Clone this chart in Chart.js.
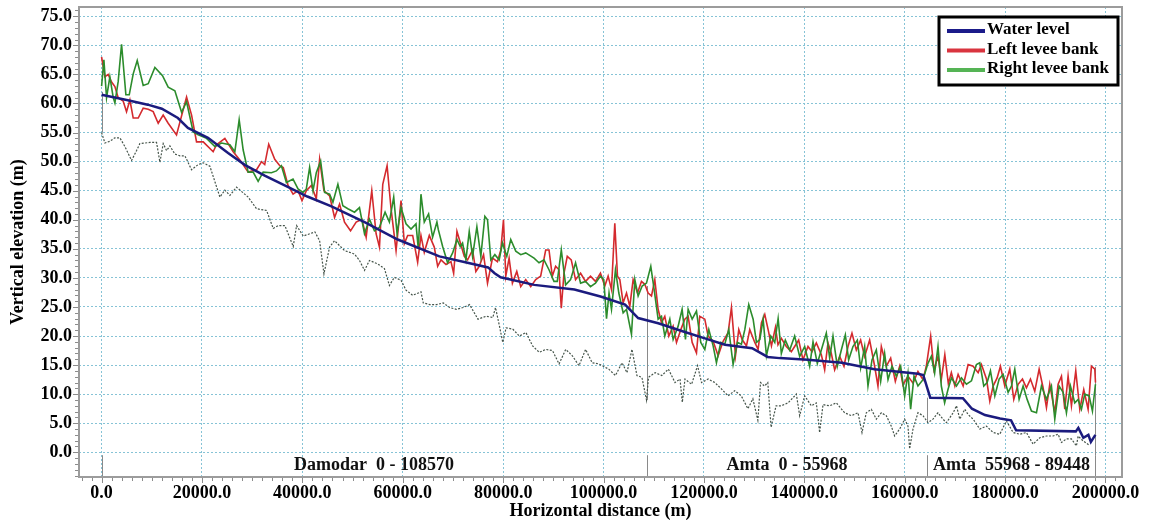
<!DOCTYPE html>
<html>
<head>
<meta charset="utf-8">
<script src="https://cdn.jsdelivr.net/npm/chart.js@4.4.0/dist/chart.umd.min.js"></script>
<style>
  html, body { margin: 0; padding: 0; background: #fff; }
  #wrap { width: 1151px; height: 522px; }
</style>
</head>
<body>
<div id="wrap"><canvas id="profile" width="1151" height="522"></canvas></div>
<script>
// [distance (m), elevation (m)]
const waterLevel = [[0,61.5],[5000,60.6],[9200,59.8],[12000,59.1],[15200,57.5],[17200,55.8],[20000,54.6],[21200,54.1],[25200,51.5],[28600,49.4],[32500,47.6],[37500,45.5],[41000,44.0],[45800,42.3],[52400,39.6],[59000,36.6],[67300,33.7],[72900,32.6],[77000,31.8],[78300,30.8],[79500,30.1],[86200,28.8],[94200,28.0],[99400,26.8],[104300,25.4],[106900,23.1],[110900,22.2],[116200,20.7],[120200,19.6],[124200,18.5],[129600,17.9],[132700,16.4],[135100,16.2],[140700,15.9],[147500,15.4],[154000,14.3],[162600,13.5],[163700,13.3],[165100,9.4],[171600,9.3],[173400,7.5],[176000,6.4],[179000,5.8],[181200,5.5],[182200,3.8],[194100,3.6],[194600,4.2],[195600,2.5],[196600,3.0],[197100,1.8],[198000,3.0]];

const leftBank = [[0,68.0],[660,64.6],[1320,65.0],[1990,63.7],[2650,62.9],[3310,61.0],[4310,60.4],[4970,58.6],[5640,60.6],[6300,57.5],[7300,57.5],[8290,59.2],[9290,59.0],[10280,58.6],[11280,56.6],[12270,58.0],[13270,56.6],[14930,54.6],[16930,61.1],[17930,58.0],[18920,53.4],[20250,53.4],[22230,51.7],[22900,52.9],[24560,54.0],[26220,51.7],[27550,50.3],[29200,48.2],[30870,48.6],[31870,50.0],[32500,49.5],[33300,53.0],[34500,50.4],[35500,49.3],[36200,49.0],[37150,45.9],[38150,44.4],[39140,45.0],[39930,43.3],[40790,45.0],[41790,45.9],[42780,43.6],[43440,50.4],[44300,45.0],[45430,44.1],[46420,40.4],[47410,42.7],[48400,39.6],[49600,38.1],[50720,39.6],[51850,40.1],[52710,37.0],[53830,45.0],[54690,37.6],[55360,35.3],[56020,46.1],[56880,49.3],[57670,41.9],[58670,34.7],[59660,43.3],[60320,35.9],[60980,37.3],[61980,37.3],[62970,32.7],[63630,37.3],[64290,34.4],[65290,37.3],[66280,35.3],[66960,32.0],[67620,33.1],[68620,32.3],[69610,32.8],[70140,30.8],[70800,38.0],[71590,35.7],[72260,33.7],[72920,33.1],[73910,34.8],[74570,31.1],[75240,32.0],[76100,34.0],[76890,29.1],[77880,33.4],[78870,32.8],[79540,34.8],[80070,40.0],[80530,30.3],[81190,33.4],[81850,29.1],[82720,31.1],[83510,28.5],[84500,29.7],[85500,28.5],[86490,29.7],[87480,30.3],[88480,34.8],[89140,34.8],[89800,30.3],[90460,32.0],[91130,31.4],[91590,24.8],[92120,30.8],[92780,33.7],[93570,33.1],[94430,29.7],[95430,30.8],[96420,29.4],[97410,30.3],[98400,29.4],[99390,30.8],[100260,28.6],[100920,30.3],[101590,28.0],[102250,39.4],[102780,30.3],[103250,29.7],[103910,25.7],[104580,27.4],[105240,25.1],[105900,29.7],[106770,27.4],[107560,29.4],[108230,28.9],[108890,27.4],[109560,26.9],[110220,29.7],[110880,24.6],[111550,22.3],[112210,23.4],[113010,20.0],[113870,21.7],[114540,18.9],[115400,21.1],[116200,22.9],[116860,23.4],[117660,18.9],[118520,17.1],[119180,23.4],[120180,22.9],[120840,20.0],[121840,19.1],[122840,16.6],[123830,19.1],[124830,20.6],[125490,24.9],[126290,16.6],[126950,21.1],[127620,19.4],[128480,18.3],[129140,21.1],[130140,18.9],[130800,17.7],[131470,22.3],[132130,23.7],[132800,21.1],[133460,18.3],[134260,21.5],[134760,18.5],[135430,19.6],[136420,18.2],[137420,17.3],[138080,18.2],[138880,19.3],[139740,15.9],[140740,18.2],[141540,17.3],[142400,18.8],[143400,16.8],[144060,14.2],[144720,18.8],[145390,17.0],[146050,14.2],[147050,16.5],[147910,14.8],[148710,18.2],[149500,20.5],[150370,17.6],[151230,19.3],[152030,16.5],[153020,19.3],[154020,14.8],[154680,11.4],[155350,18.2],[156340,14.8],[157210,16.2],[158140,12.2],[159000,14.8],[159660,11.6],[160660,13.1],[161660,11.9],[162650,13.9],[163650,12.5],[164310,14.8],[165180,20.0],[165840,14.2],[166640,16.5],[167300,12.5],[168000,16.8],[168700,11.8],[169300,13.7],[170000,11.4],[170650,13.4],[171650,11.4],[172640,15.1],[173640,14.8],[174640,13.7],[175300,15.1],[176300,12.6],[176960,8.8],[177620,11.4],[178420,12.8],[179080,14.8],[179950,11.4],[180940,14.3],[181740,9.1],[182600,11.7],[183470,12.6],[184260,11.1],[185060,12.6],[185920,10.5],[186790,14.3],[187580,11.1],[188250,7.7],[188910,11.7],[189910,6.8],[190570,11.7],[191240,13.1],[191900,7.4],[192560,13.1],[193230,8.0],[194090,14.0],[194890,7.4],[195680,10.8],[196550,7.4],[197210,14.8],[197880,14.3],[198018,12.0]];

const rightBank = [[0,63.0],[460,67.5],[990,61.0],[1650,64.6],[2320,61.0],[2650,60.1],[3310,63.8],[3980,70.2],[4840,61.5],[5510,61.5],[6300,65.1],[7100,67.4],[8290,63.1],[9290,63.4],[10620,66.2],[12140,64.8],[13270,62.8],[14600,62.2],[15940,58.5],[16930,60.3],[18250,55.1],[19250,54.6],[20910,54.0],[22570,52.6],[23900,53.2],[25560,52.9],[26550,51.7],[27410,57.2],[28210,52.0],[29200,48.2],[30200,48.2],[31190,46.6],[32190,48.2],[33840,48.1],[34830,48.4],[35830,49.3],[36820,46.4],[38140,47.0],[39140,45.3],[40130,44.7],[40790,45.3],[41450,49.0],[42120,45.0],[42780,48.1],[43640,50.1],[44430,44.7],[45430,44.4],[46090,43.0],[47080,46.1],[48070,42.4],[49070,41.9],[50390,41.3],[51380,42.1],[52380,37.6],[53370,40.1],[54360,38.1],[55360,38.7],[56480,41.3],[57340,39.6],[58200,43.9],[58870,37.6],[59660,42.1],[60650,39.3],[61650,38.4],[62640,39.3],[63100,35.0],[63630,44.4],[64290,39.6],[65150,41.0],[65950,37.0],[66810,39.6],[67090,38.3],[67950,35.4],[68940,32.6],[69940,34.3],[70800,36.6],[71460,35.4],[71920,36.0],[72590,33.1],[73250,38.0],[73910,33.7],[74770,38.8],[75560,33.7],[76360,40.6],[76890,40.0],[77550,33.1],[78350,34.0],[79210,33.1],[79870,36.0],[80730,33.7],[81520,36.6],[82520,34.6],[83510,34.0],[84500,34.3],[86160,33.4],[87150,32.6],[88140,33.1],[89140,31.4],[90130,29.4],[90790,29.4],[91590,34.8],[92450,28.8],[93440,29.7],[94430,32.6],[95430,29.1],[96420,29.4],[97410,28.5],[98400,29.1],[99390,30.3],[100050,29.7],[100600,23.0],[101100,27.4],[101590,24.6],[102380,31.4],[103050,27.4],[103910,24.0],[104580,24.6],[105570,20.3],[106240,29.7],[106900,26.9],[107700,28.6],[108560,29.1],[109420,32.0],[110090,28.0],[110880,22.9],[111550,23.4],[112210,20.0],[113210,22.9],[113870,19.4],[114870,21.7],[115660,24.6],[116330,19.4],[116860,24.6],[117660,22.9],[118520,24.3],[119380,18.9],[120180,17.7],[120980,21.1],[121840,18.3],[122500,15.4],[123370,18.9],[124160,18.6],[124960,21.1],[125820,15.1],[126690,18.9],[127480,18.6],[128150,21.1],[128940,25.4],[129810,22.9],[130470,18.9],[131140,19.4],[131800,22.9],[132460,16.6],[133330,20.0],[134120,18.9],[134790,23.0],[135430,17.0],[136220,19.3],[137090,17.6],[138080,20.0],[139080,16.5],[140080,18.2],[141070,14.8],[141740,19.0],[142600,15.3],[143400,17.6],[144390,20.5],[145060,16.2],[145720,20.0],[146580,14.8],[147380,17.6],[148180,20.2],[148840,15.9],[149700,18.2],[150570,19.3],[151230,14.5],[152030,18.2],[152690,11.4],[153490,15.9],[154350,17.6],[155220,12.2],[156010,17.0],[156680,12.5],[157470,14.8],[158340,13.1],[159200,14.8],[160000,9.7],[160660,13.6],[161190,7.4],[161860,13.1],[162650,11.4],[163650,12.5],[164640,15.3],[165310,16.5],[165970,13.6],[166640,18.2],[167300,11.4],[167960,8.5],[168630,10.8],[169320,12.8],[170320,11.4],[171320,12.8],[172310,11.7],[173310,12.3],[174300,15.1],[174970,15.4],[175760,11.4],[176430,12.0],[177090,14.0],[177960,9.7],[178820,12.6],[179620,13.4],[180610,10.3],[181280,11.4],[181940,14.3],[182800,9.1],[183600,11.4],[184400,9.1],[185260,7.1],[186260,6.8],[187250,11.4],[188250,9.1],[189240,11.4],[189910,5.7],[190770,11.4],[191570,10.3],[192230,6.8],[193030,11.4],[193890,8.5],[194560,9.1],[195220,7.4],[195880,10.0],[196750,9.7],[197410,7.1],[198010,11.7]];

const bedLevel = [[0,55.0],[660,53.2],[1650,53.5],[2650,54.1],[3640,54.1],[4640,52.6],[5970,50.2],[6970,51.9],[7630,53.1],[9630,53.3],[10950,53.3],[11620,49.9],[12280,53.1],[12950,51.9],[13610,52.7],[14610,51.3],[15600,51.0],[16600,51.0],[17930,48.6],[19250,49.5],[20250,49.8],[21580,49.2],[23570,43.9],[24560,45.1],[25560,44.2],[26890,45.6],[29200,43.9],[30870,41.9],[32870,41.6],[34200,38.5],[35200,39.0],[36520,39.0],[38180,35.4],[38850,39.0],[40180,37.2],[42500,37.9],[43440,36.4],[44300,30.7],[45430,35.3],[46420,36.4],[48400,34.7],[50390,34.1],[51380,33.0],[52380,31.3],[53370,33.0],[55030,32.4],[56350,31.6],[57340,28.7],[58330,30.1],[59660,29.6],[60650,27.9],[61980,27.0],[63630,27.6],[64090,25.7],[65410,25.4],[66730,25.4],[68050,25.7],[69370,24.9],[70690,24.6],[72010,24.9],[73330,25.4],[74980,22.9],[76630,23.4],[77950,23.2],[78480,24.9],[79270,21.7],[79930,18.9],[80590,21.4],[81910,21.2],[83230,20.0],[84550,20.6],[85870,18.3],[87190,17.2],[88510,17.7],[89830,17.5],[91150,15.2],[92470,17.7],[93790,16.6],[95110,14.9],[96430,17.7],[97750,15.4],[99070,15.2],[101050,14.3],[102370,13.2],[103690,15.4],[104680,13.7],[105670,17.7],[106660,13.2],[107650,12.9],[108570,9.0],[108970,12.9],[110290,13.7],[111610,13.2],[112930,14.3],[114250,12.0],[115240,12.6],[115700,8.6],[116230,12.6],[117550,11.7],[118740,14.9],[119530,12.0],[120850,12.6],[122170,12.0],[123490,10.9],[124810,9.7],[126130,10.6],[127450,9.7],[128770,7.5],[129760,9.2],[130750,5.5],[131280,12.0],[132070,11.4],[132730,12.0],[133390,4.3],[134380,8.0],[135430,8.0],[136760,8.5],[138420,10.0],[139080,6.3],[140080,9.7],[141400,8.0],[142400,8.5],[143060,3.4],[143730,8.2],[145060,8.0],[146380,8.5],[148040,6.8],[149370,6.3],[150700,6.8],[151500,3.4],[152360,6.8],[153360,7.4],[154350,5.7],[155350,6.8],[156340,6.3],[157340,4.5],[158000,2.8],[159000,4.0],[160000,5.7],[160660,4.5],[160990,0.6],[161660,4.0],[162650,6.8],[163650,6.3],[164640,5.1],[165640,5.7],[166640,6.8],[167630,5.7],[168330,5.1],[169660,6.8],[170320,8.0],[170980,5.7],[171980,7.4],[172640,6.5],[173640,5.7],[174970,4.0],[176300,4.5],[177620,3.4],[178950,3.1],[180280,5.4],[181610,3.4],[182940,3.1],[184260,3.4],[185590,1.4],[186920,2.5],[188250,2.8],[189580,2.8],[190570,3.1],[191240,1.7],[192230,2.3],[193230,2.3],[194220,1.1],[194560,2.8],[195500,2.0],[196800,1.2]];

// reach boundaries (chainage) and the gray marker lines drawn there
const sectionX = [0, 108570, 164538, 198018];
const sectionTop = [62.0, 28.6, 9.4, 14.7];
const sectionBase = [55.0, 9.0, 5.1, -0.5];
const sectionLabels = ['Damodar  0 - 108570', 'Amta  0 - 55968', 'Amta  55968 - 89448'];

const seriesNames = ['Water level', 'Left levee bank', 'Right levee bank'];

const xTicks = [0, 20000, 40000, 60000, 80000, 100000, 120000, 140000, 160000, 180000, 200000];
const yTicks = [0, 5, 10, 15, 20, 25, 30, 35, 40, 45, 50, 55, 60, 65, 70, 75];

const FONT = "'Liberation Serif', 'Times New Roman', serif";
const toPts = arr => arr.map(p => ({ x: p[0], y: p[1] }));

const profileDecor = {
  id: 'profileDecor',
  beforeDatasetsDraw(chart) {
    const { ctx, chartArea: a, scales: { x, y } } = chart;
    ctx.save();
    ctx.strokeStyle = '#8a8a8a';
    ctx.lineWidth = 1;
    sectionX.forEach((sx, i) => {
      const px = Math.round(x.getPixelForValue(sx)) + 0.5;
      ctx.beginPath();
      ctx.moveTo(px, y.getPixelForValue(sectionTop[i]));
      ctx.lineTo(px, y.getPixelForValue(sectionBase[i]));
      ctx.moveTo(px, y.getPixelForValue(-0.5));
      ctx.lineTo(px, a.bottom);
      ctx.stroke();
    });
    ctx.restore();
  },
  afterDatasetsDraw(chart) {
    const { ctx, chartArea: a, scales: { x, y } } = chart;
    ctx.save();
    // reach labels
    ctx.font = 'bold 18px ' + FONT;
    ctx.fillStyle = '#111';
    ctx.textAlign = 'center';
    ctx.textBaseline = 'middle';
    sectionLabels.forEach((t, i) => {
      const mid = (sectionX[i] + sectionX[i + 1]) / 2;
      ctx.fillText(t, x.getPixelForValue(mid), y.getPixelForValue(-2.2));
    });

    // frame
    ctx.strokeStyle = '#9c9c9c';
    ctx.lineWidth = 2;
    ctx.strokeRect(a.left, a.top, a.right - a.left, a.bottom - a.top);

    // minor ticks
    ctx.lineWidth = 1;
    ctx.strokeStyle = '#8c8c8c';
    ctx.beginPath();
    for (let v = Math.ceil(y.min); v <= y.max; v += 1) {
      const py = Math.round(y.getPixelForValue(v)) + 0.5;
      const len = v % 5 === 0 ? 5 : 3;
      ctx.moveTo(a.left - 1, py);
      ctx.lineTo(a.left - 1 - len, py);
    }
    for (let v = -4000; v <= x.max; v += 2000) {
      const px = Math.round(x.getPixelForValue(v)) + 0.5;
      const len = v % 20000 === 0 ? 5 : 3;
      ctx.moveTo(px, a.bottom + 1);
      ctx.lineTo(px, a.bottom + 1 + len);
    }
    ctx.stroke();

    // legend box
    const bw = 179, bh = 68;
    const bx = a.right - 4 - bw, by = a.top + 10;
    ctx.fillStyle = '#fff';
    ctx.fillRect(bx, by, bw, bh);
    ctx.strokeStyle = '#000';
    ctx.lineWidth = 3;
    ctx.strokeRect(bx, by, bw, bh);
    ctx.font = 'bold 17px ' + FONT;
    ctx.textAlign = 'left';
    ctx.textBaseline = 'middle';
    seriesNames.forEach((name, i) => {
      const ds = chart.data.datasets[i];
      const ry = by + 13 + i * 19.5;
      ctx.strokeStyle = ds.legendColor;
      ctx.lineWidth = 4;
      ctx.beginPath();
      ctx.moveTo(bx + 8, ry + 1);
      ctx.lineTo(bx + 46, ry + 1);
      ctx.stroke();
      ctx.fillStyle = '#000';
      ctx.fillText(name, bx + 48, ry);
    });
    ctx.restore();
  }
};

new Chart(document.getElementById('profile'), {
  type: 'line',
  data: {
    datasets: [
      {
        label: seriesNames[0],
        data: toPts(waterLevel),
        borderColor: '#1b1b7e',
        legendColor: '#1b1b8a',
        borderWidth: 2.5,
        order: 0
      },
      {
        label: seriesNames[1],
        data: toPts(leftBank),
        borderColor: '#d42a2e',
        legendColor: '#d9343f',
        borderWidth: 1.6,
        order: 2
      },
      {
        label: seriesNames[2],
        data: toPts(rightBank),
        borderColor: '#2c8c2c',
        legendColor: '#55b455',
        borderWidth: 1.6,
        order: 1
      },
      {
        label: 'Bed level',
        data: toPts(bedLevel),
        borderColor: '#45544a',
        borderWidth: 1.2,
        borderDash: [2, 1.5],
        order: 3
      }
    ]
  },
  options: {
    responsive: false,
    devicePixelRatio: 1,
    animation: false,
    layout: { padding: { top: 7, right: 29, left: 0, bottom: 0 } },
    elements: {
      point: { radius: 0 },
      line: { tension: 0, fill: false }
    },
    plugins: {
      legend: { display: false },
      tooltip: { enabled: false }
    },
    scales: {
      x: {
        type: 'linear',
        min: -4500,
        max: 203300,
        afterFit: s => {
          s.height = 45;
          s.paddingLeft = 0;
          s.paddingRight = 0;
        },
        afterBuildTicks: s => { s.ticks = xTicks.map(v => ({ value: v })); },
        ticks: {
          autoSkip: false,
          maxRotation: 0,
          padding: 6,
          color: '#000',
          font: { family: FONT, size: 18, weight: 'bold' },
          callback: v => v.toFixed(1)
        },
        grid: { color: '#86c3d6', lineWidth: 1, drawTicks: false },
        border: { display: false, dash: [2, 2] },
        title: {
          display: true,
          text: 'Horizontal distance (m)',
          color: '#000',
          font: { family: FONT, size: 18, weight: 'bold' },
          padding: { top: 0, bottom: 0 }
        }
      },
      y: {
        type: 'linear',
        min: -4.25,
        max: 76.6,
        afterFit: s => {
          s.width = 79;
          s.paddingTop = 0;
          s.paddingBottom = 0;
        },
        afterBuildTicks: s => { s.ticks = yTicks.map(v => ({ value: v })); },
        ticks: {
          autoSkip: false,
          padding: 7,
          color: '#000',
          font: { family: FONT, size: 18, weight: 'bold' },
          callback: v => v.toFixed(1)
        },
        grid: { color: '#86c3d6', lineWidth: 1, drawTicks: false },
        border: { display: false, dash: [2, 2] },
        title: {
          display: true,
          text: 'Vertical elevation (m)',
          color: '#000',
          font: { family: FONT, size: 18, weight: 'bold' },
          padding: { top: 8, bottom: 0 }
        }
      }
    }
  },
  plugins: [profileDecor]
});
</script>
</body>
</html>
